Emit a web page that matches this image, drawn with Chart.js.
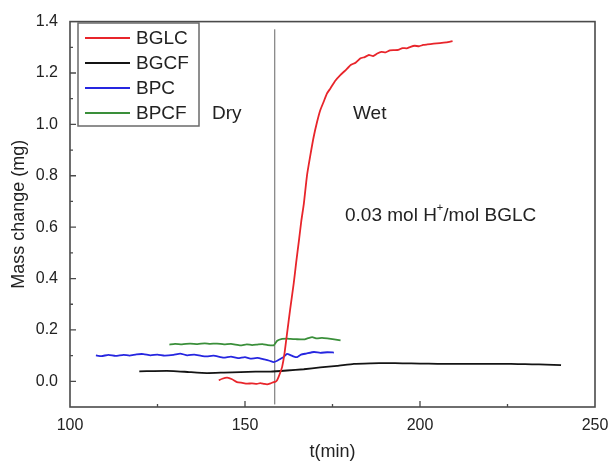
<!DOCTYPE html>
<html>
<head>
<meta charset="utf-8">
<script src="https://cdn.jsdelivr.net/npm/chart.js@4/dist/chart.umd.min.js"></script>
<style>
  html, body { margin: 0; padding: 0; background: #fff; }
  #wrap { width: 610px; height: 466px; position: relative; }
</style>
</head>
<body>
<div id="wrap"><canvas id="c" width="610" height="466"></canvas></div>
<script>
// ---- Data ----
const seriesLabels = ['BGLC', 'BGCF', 'BPC', 'BPCF'];

const bglcT = [142.5,143.5,144.9,146.3,147.7,149.2,150.6,152.0,153.4,154.4,155.4,156.3,157.3,158.2,158.7,159.2,159.6,160.1,160.6,161.3,162.0,162.9,163.9,164.6,165.4,166.1,166.8,167.7,168.7,169.6,170.6,171.5,172.5,173.4,174.4,175.8,177.3,178.7,180.2,181.6,183.0,184.2,185.4,186.6,187.8,189.0,190.2,191.4,192.6,193.8,195.0,196.2,197.3,198.5,199.7,200.9,202.1,203.9,205.7,207.5,209.3];
const bglcV = [0.004,0.010,0.014,0.008,-0.003,-0.006,-0.009,-0.008,-0.010,-0.007,-0.010,-0.012,-0.008,-0.003,-0.002,0.005,0.017,0.035,0.055,0.11,0.185,0.28,0.379,0.46,0.547,0.625,0.69,0.80,0.882,0.95,1.01,1.055,1.089,1.12,1.14,1.17,1.193,1.21,1.231,1.24,1.257,1.262,1.27,1.266,1.276,1.282,1.28,1.288,1.289,1.29,1.297,1.296,1.302,1.306,1.304,1.309,1.311,1.314,1.316,1.319,1.324];

const bgcfT = [119.8,124,129.6,134,139.1,144,148.7,153,157.3,162,166.8,171.5,176.3,181.1,186,190.7,195,200,205,210,215,220,224,228,232,236,240.3];
const bgcfV = [0.039,0.040,0.040,0.036,0.032,0.034,0.036,0.038,0.038,0.042,0.047,0.054,0.060,0.068,0.070,0.071,0.070,0.069,0.068,0.068,0.068,0.068,0.068,0.067,0.066,0.065,0.063];

const bpcT = [107.4,109,111,113,115.3,117,119,121,123,125,127,129.6,131.5,133.5,135.5,137.5,139.1,141,143.9,146,148,150,151.5,153.5,155.5,157,158.2,159.2,160.2,161,162,163,164,164.9,166,167.5,169.7,171.5,173.5,175.4];
const bpcV = [0.101,0.098,0.103,0.099,0.103,0.100,0.105,0.106,0.101,0.104,0.100,0.103,0.108,0.101,0.104,0.099,0.097,0.100,0.092,0.096,0.090,0.094,0.088,0.091,0.085,0.080,0.075,0.080,0.088,0.094,0.107,0.102,0.096,0.094,0.104,0.108,0.114,0.111,0.113,0.112];

const bpcfT = [128.4,130,132,134.3,136.5,138.5,140,142,144,146,148.7,150.5,152,153.5,155,156.5,158.2,159.2,160.6,162,163,164.5,166.8,168,169.2,170.5,172,173.5,175.5,177.3];
const bpcfV = [0.143,0.146,0.144,0.147,0.145,0.148,0.146,0.147,0.144,0.146,0.140,0.144,0.141,0.143,0.145,0.141,0.140,0.158,0.165,0.166,0.165,0.164,0.163,0.168,0.172,0.167,0.169,0.167,0.163,0.159];

// Dry / wet switch line
const dividerT = [158.5, 158.5];
const dividerV = [-0.09, 1.37];

// Axis ticks
const xTickLabels = [100, 150, 200, 250];
const yTickLabels = [0.0, 0.2, 0.4, 0.6, 0.8, 1.0, 1.2, 1.4];

// Annotations
const annoDry = 'Dry';
const annoWet = 'Wet';

// ---- Chart ----
const colors = ['#e8252b', '#141414', '#2626e0', '#3a8f3a'];
const pts = (t, v) => t.map((x, i) => ({ x: x, y: v[i] }));
const FONT = '"Liberation Sans", Arial, sans-serif';

const allT = [bglcT, bgcfT, bpcT, bpcfT];
const allV = [bglcV, bgcfV, bpcV, bpcfV];
const datasets = seriesLabels.map((lab, i) => ({
  label: lab,
  data: pts(allT[i], allV[i]),
  borderColor: colors[i],
  backgroundColor: colors[i],
  borderWidth: 1.8,
  pointRadius: 0,
  tension: 0.15,
  fill: false
}));
datasets.push({
  label: 'divider',
  data: pts(dividerT, dividerV),
  borderColor: '#666',
  borderWidth: 1,
  pointRadius: 0,
  fill: false
});

const framePlugin = {
  id: 'frame',
  afterDatasetsDraw(chart) {
    const ctx = chart.ctx, a = chart.chartArea;
    const xs = chart.scales.x, ys = chart.scales.y;
    ctx.save();
    ctx.strokeStyle = '#4a4a4a';
    ctx.lineWidth = 1.6;
    ctx.strokeRect(a.left, a.top, a.right - a.left, a.bottom - a.top);
    ctx.lineWidth = 1.3;
    ctx.beginPath();
    for (let v = 125; v < 250; v += 25) {
      const px = xs.getPixelForValue(v);
      const len = (v % 50 === 0) ? 6 : 3;
      ctx.moveTo(px, a.bottom); ctx.lineTo(px, a.bottom - len);
    }
    for (let k = 0; k <= 13; k++) {
      const v = k * 0.1;
      const py = ys.getPixelForValue(v);
      const len = (k % 2 === 0) ? 6 : 3;
      ctx.moveTo(a.left, py); ctx.lineTo(a.left + len, py);
    }
    ctx.stroke();

    // legend
    const lx = 78, ly = 23, lw = 121, lh = 103;
    ctx.fillStyle = '#fff';
    ctx.fillRect(lx, ly, lw, lh);
    ctx.strokeStyle = '#6a6a6a';
    ctx.lineWidth = 1.5;
    ctx.strokeRect(lx, ly, lw, lh);
    ctx.font = '19px ' + FONT;
    ctx.textBaseline = 'middle';
    ctx.textAlign = 'left';
    seriesLabels.forEach((lab, i) => {
      const y = 38 + i * 25;
      ctx.strokeStyle = colors[i];
      ctx.lineWidth = 2;
      ctx.beginPath(); ctx.moveTo(85, y); ctx.lineTo(130, y); ctx.stroke();
      ctx.fillStyle = '#222';
      ctx.fillText(lab, 136, y + 1);
    });

    // annotations
    ctx.fillStyle = '#222';
    ctx.font = '19px ' + FONT;
    ctx.fillText(annoDry, 212, 114);
    ctx.fillText(annoWet, 353, 114);
    let x = 345; const y = 216;
    const p1 = '0.03 mol H';
    ctx.fillText(p1, x, y); x += ctx.measureText(p1).width;
    ctx.font = '11px ' + FONT;
    ctx.fillText('+', x, y - 8); x += ctx.measureText('+').width;
    ctx.font = '19px ' + FONT;
    ctx.fillText('/mol BGLC', x, y);
    ctx.restore();
  }
};

new Chart(document.getElementById('c'), {
  type: 'line',
  data: { datasets: datasets },
  options: {
    responsive: false,
    animation: false,
    layout: { padding: { top: 20, right: 15, left: 0, bottom: 0 } },
    plugins: { legend: { display: false }, tooltip: { enabled: false } },
    scales: {
      x: {
        type: 'linear', min: 100, max: 250,
        afterFit: s => { s.height = 59; s.paddingRight = 0; s.paddingLeft = 0; },
        grid: { display: false, drawTicks: false },
        border: { display: false },
        ticks: {
          stepSize: 50, padding: 9, color: '#222', maxRotation: 0,
          font: { family: FONT, size: 16 },
          callback: v => xTickLabels.includes(v) ? String(v) : ''
        },
        title: { display: true, text: 't(min)', color: '#222',
                 font: { family: FONT, size: 18 }, padding: { top: 2, bottom: 3 } }
      },
      y: {
        type: 'linear', min: -0.1, max: 1.4,
        afterFit: s => { s.width = 70; },
        grid: { display: false, drawTicks: false },
        border: { display: false },
        ticks: {
          stepSize: 0.1, padding: 12, color: '#222',
          font: { family: FONT, size: 16 },
          callback: v => {
            const k = Math.round(v * 10);
            const val = k / 10;
            return (k >= 0 && k % 2 === 0 && yTickLabels.includes(val)) ? val.toFixed(1) : '';
          }
        },
        title: { display: true, text: 'Mass change (mg)', color: '#222',
                 font: { family: FONT, size: 18 }, padding: { top: 8, bottom: 0 } }
      }
    }
  },
  plugins: [framePlugin]
});
</script>
</body>
</html>
